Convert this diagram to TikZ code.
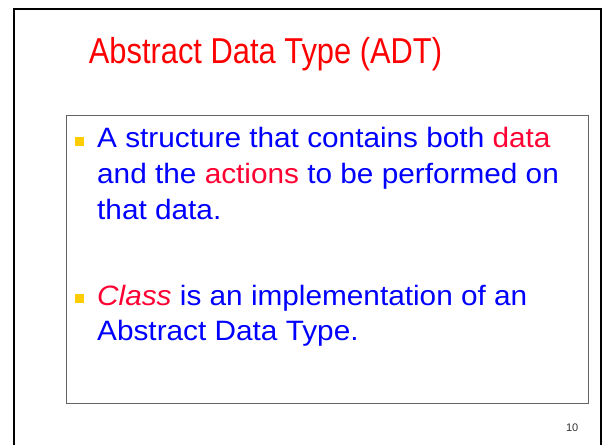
\documentclass[tikz,border=0pt]{standalone}
\usepackage{fontspec}
\setmainfont{Liberation Sans}
\definecolor{titlered}{RGB}{255,0,0}
\definecolor{hotred}{RGB}{255,0,51}
\definecolor{textblue}{RGB}{0,0,255}
\definecolor{bulletgold}{RGB}{255,204,0}
\definecolor{boxgray}{RGB}{100,100,100}
\newcommand{\wide}[1]{\scalebox{1.063}[1]{#1}}
\tikzset{
  bodytext/.style={anchor=base west, inner sep=0pt, text=textblue,
    font=\fontsize{28bp}{34bp}\selectfont},
  bulletbox/.style={fill=bulletgold, draw=none, minimum size=9bp, inner sep=0pt},
}
\begin{document}
\begin{tikzpicture}[x=1bp,y=-1bp]
\useasboundingbox (0,0) rectangle (602,445);
\fill[white] (0,0) rectangle (602,445);
\begin{scope}
  \clip (0,0) rectangle (602,445);
  % slide frame, running off the bottom edge
  \draw[black, line width=2bp] (14,470) -- (14,9) -- (601,9) -- (601,470);
\end{scope}

% title
\node[anchor=base, inner sep=0pt, text=titlered,
      font=\fontsize{36bp}{40bp}\selectfont] (title) at (265.5,64)
  {\scalebox{0.857}[1]{Abstract Data Type (ADT)}};

% content box
\draw[boxgray, line width=1bp] (66.5,115.5) rectangle (588.5,403.5);

% bullet markers
\node[bulletbox] (b1) at (79,142) {};
\node[bulletbox] (b2) at (79,298) {};

% first item
\node[bodytext] (l1) at (97,148) {\wide{A structure that contains both \textcolor{hotred}{data}}};
\node[bodytext] (l2) at (97,184) {\wide{and the \textcolor{hotred}{actions} to be performed on}};
\node[bodytext] (l3) at (97,220) {\wide{that data.}};

% second item
\node[bodytext] (l4) at (97,305) {\wide{\textcolor{hotred}{\itshape Class} is an implementation of an}};
\node[bodytext] (l5) at (97,340) {\wide{Abstract Data Type.}};

% slide number
\node[anchor=base east, inner sep=0pt, text=black!80,
      font=\fontsize{11bp}{13bp}\selectfont] (num) at (578.5,431) {10};
\end{tikzpicture}
\end{document}
